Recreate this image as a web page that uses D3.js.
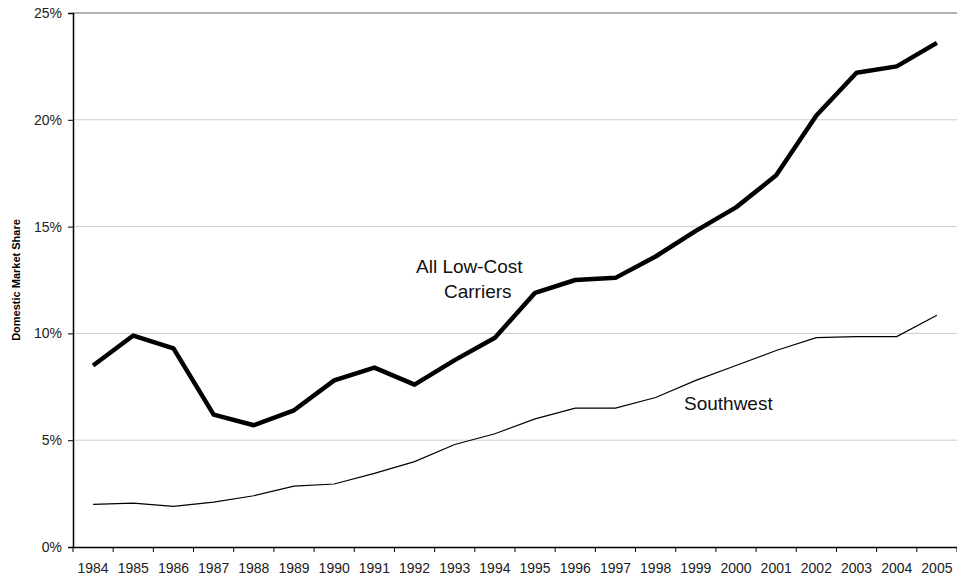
<!DOCTYPE html>
<html lang="en">
<head>
<meta charset="UTF-8">
<title>Domestic Market Share</title>
<style>
  body { margin: 0; background: #fff; font-family: "Liberation Sans", Arial, sans-serif; }
  .tick text { font-size: 14px; fill: #222; }
</style>
</head>
<body>
<div id="chart"></div>
<script src="https://d3js.org/d3.v7.min.js"></script>
<script>
const years = d3.range(1984, 2006).map(String);
const lowCost = [8.5, 9.9, 9.3, 6.2, 5.7, 6.4, 7.8, 8.4, 7.6, 8.75, 9.8, 11.9, 12.5, 12.6, 13.6, 14.8, 15.9, 17.4, 20.2, 22.2, 22.5, 23.6];
const southwest = [2.0, 2.05, 1.9, 2.1, 2.4, 2.85, 2.95, 3.45, 4.0, 4.8, 5.3, 6.0, 6.5, 6.5, 7.0, 7.8, 8.5, 9.2, 9.8, 9.85, 9.85, 10.85];
const yTicks = [0, 5, 10, 15, 20, 25];

const width = 957, height = 579;
const m = { left: 73, right: 0, top: 13, bottom: 32 };

const svg = d3.select("#chart").append("svg")
  .attr("width", width).attr("height", height);

const x = d3.scaleBand().domain(years).range([m.left, width - m.right]);
const y = d3.scaleLinear().domain([0, 25]).range([height - m.bottom, m.top]);

// gridlines
svg.append("g").selectAll("line").data(yTicks.filter(d => d > 0)).join("line")
  .attr("x1", m.left).attr("x2", width - m.right)
  .attr("y1", d => y(d)).attr("y2", d => y(d))
  .attr("stroke", d => d === 25 ? "#999" : "#ccc")
  .attr("stroke-width", d => d === 25 ? 1.5 : 1);

const yAxis = svg.append("g").attr("transform", `translate(${m.left},0)`)
  .call(d3.axisLeft(y).tickValues(yTicks).tickFormat(d => d + "%").tickSize(5).tickPadding(6));
yAxis.select(".domain").attr("stroke", "#000").attr("stroke-width", 1.5);

const xAxis = svg.append("g").attr("transform", `translate(0,${y(0)})`)
  .call(d3.axisBottom(x).tickSize(0).tickPadding(16));
xAxis.select(".domain").attr("stroke", "#000").attr("stroke-width", 1.5);
xAxis.selectAll(".edge").data(years.concat(["end"])).join("line")
  .attr("x1", (d, i) => m.left + i * x.step()).attr("x2", (d, i) => m.left + i * x.step())
  .attr("y1", 0).attr("y2", 5).attr("stroke", "#000");

svg.append("text")
  .attr("transform", `translate(20,${(m.top + y(0)) / 2}) rotate(-90)`)
  .attr("text-anchor", "middle").attr("font-size", 11).attr("font-weight", "bold")
  .text("Domestic Market Share");

const line = d3.line().x((d, i) => x(years[i]) + x.bandwidth() / 2).y(d => y(d));

svg.append("path").datum(southwest).attr("d", line)
  .attr("fill", "none").attr("stroke", "#000").attr("stroke-width", 1.2);
svg.append("path").datum(lowCost).attr("d", line)
  .attr("fill", "none").attr("stroke", "#000").attr("stroke-width", 4.5)
  .attr("stroke-linejoin", "round");

const lbl = svg.append("g").attr("font-size", 19).attr("fill", "#111");
lbl.append("text").attr("x", 416).attr("y", 273).text("All Low-Cost");
lbl.append("text").attr("x", 444).attr("y", 298).text("Carriers");
lbl.append("text").attr("x", 684).attr("y", 410).text("Southwest");
</script>
</body>
</html>
